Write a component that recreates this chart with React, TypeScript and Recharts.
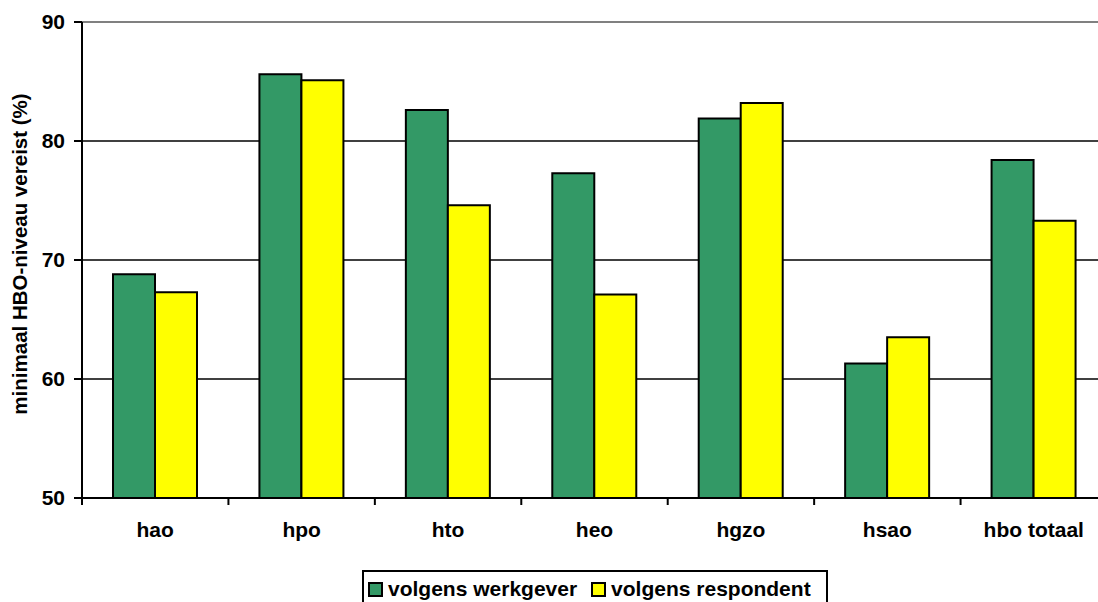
import React from 'react';
import { BarChart, Bar, XAxis, YAxis, CartesianGrid, ReferenceLine } from 'recharts';

const categories = ['hao', 'hpo', 'hto', 'heo', 'hgzo', 'hsao', 'hbo totaal'];
const werkgever = [68.8, 85.6, 82.6, 77.3, 81.9, 61.3, 78.4];
const respondent = [67.3, 85.1, 74.6, 67.1, 83.2, 63.5, 73.3];
const yTicks = [50, 60, 70, 80, 90];

const seriesKeys = ['werkgever', 'respondent'];
const seriesNames = ['volgens werkgever', 'volgens respondent'];
const seriesColors = ['#339966', '#FFFF00'];

const data = categories.map((name, i) => ({
  name,
  werkgever: werkgever[i],
  respondent: respondent[i],
}));

const FONT = '"Liberation Sans", Arial, Helvetica, sans-serif';

// category label centred in the band, tick mark on the band's left edge
const CategoryTick = (props: any) => {
  const { x, y, payload } = props;
  const half = payload?.offset ?? 0;
  return (
    <g>
      <line x1={x - half} x2={x - half} y1={y} y2={y + 7} stroke="#000" strokeWidth={2} />
      <text
        x={x}
        y={y + 39}
        textAnchor="middle"
        fontFamily={FONT}
        fontWeight="bold"
        fontSize={21}
        fill="#000"
      >
        {payload.value}
      </text>
    </g>
  );
};

const YTitle = (props: any) => {
  const { viewBox } = props;
  const tx = (viewBox?.x ?? 0) + 27;
  const ty = (viewBox?.y ?? 0) + (viewBox?.height ?? 0) / 2 - 6;
  return (
    <text
      x={tx}
      y={ty}
      transform={`rotate(-90, ${tx}, ${ty})`}
      textAnchor="middle"
      fontFamily={FONT}
      fontWeight="bold"
      fontSize={20.5}
      fill="#000"
    >
      minimaal HBO-niveau vereist (%)
    </text>
  );
};

const Legend = () => (
  <div
    style={{
      position: 'absolute',
      left: 362,
      top: 570,
      width: 466,
      height: 44,
      border: '2px solid #000',
      boxSizing: 'border-box',
      display: 'flex',
      alignItems: 'flex-start',
      paddingTop: 6,
      paddingLeft: 4,
      fontFamily: FONT,
      fontWeight: 'bold',
      fontSize: 21,
      lineHeight: '22px',
      background: '#fff',
    }}
  >
    {seriesNames.map((n, i) => (
      <div key={n} style={{ display: 'flex', alignItems: 'center', marginRight: 14 }}>
        <span
          style={{
            display: 'inline-block',
            width: 15,
            height: 15,
            boxSizing: 'border-box',
            border: '2px solid #000',
            background: seriesColors[i],
            marginRight: 5,
          }}
        />
        <span>{n}</span>
      </div>
    ))}
  </div>
);

export default function App() {
  return (
    <div
      style={{
        position: 'absolute',
        left: 0,
        top: 0,
        width: 1098,
        height: 602,
        overflow: 'hidden',
        background: '#fff',
      }}
    >
      <BarChart
        width={1120}
        height={560}
        data={data}
        margin={{ top: 22, right: 13, left: 0, bottom: 0 }}
        barGap={0}
      >
        <CartesianGrid vertical={false} stroke="#000" strokeWidth={1.5} />
        <XAxis
          dataKey="name"
          height={62}
          tickSize={0}
          tickMargin={0}
          tickLine={false}
          interval={0}
          axisLine={{ stroke: '#000', strokeWidth: 2 }}
          tick={<CategoryTick />}
        />
        <YAxis
          width={82}
          domain={[50, 90]}
          ticks={yTicks}
          interval={0}
          allowDataOverflow
          tickSize={8}
          tickMargin={9}
          axisLine={{ stroke: '#000', strokeWidth: 2 }}
          tickLine={{ stroke: '#000', strokeWidth: 2 }}
          tick={{ fill: '#000', fontFamily: FONT, fontWeight: 'bold', fontSize: 21 }}
          label={<YTitle />}
        />
        <ReferenceLine y={90} stroke="#808080" strokeWidth={2} />
        {seriesKeys.map((k, i) => (
          <Bar
            key={k}
            dataKey={k}
            name={seriesNames[i]}
            fill={seriesColors[i]}
            stroke="#000"
            strokeWidth={2}
            barSize={42}
            isAnimationActive={false}
          />
        ))}
      </BarChart>
      <Legend />
    </div>
  );
}
